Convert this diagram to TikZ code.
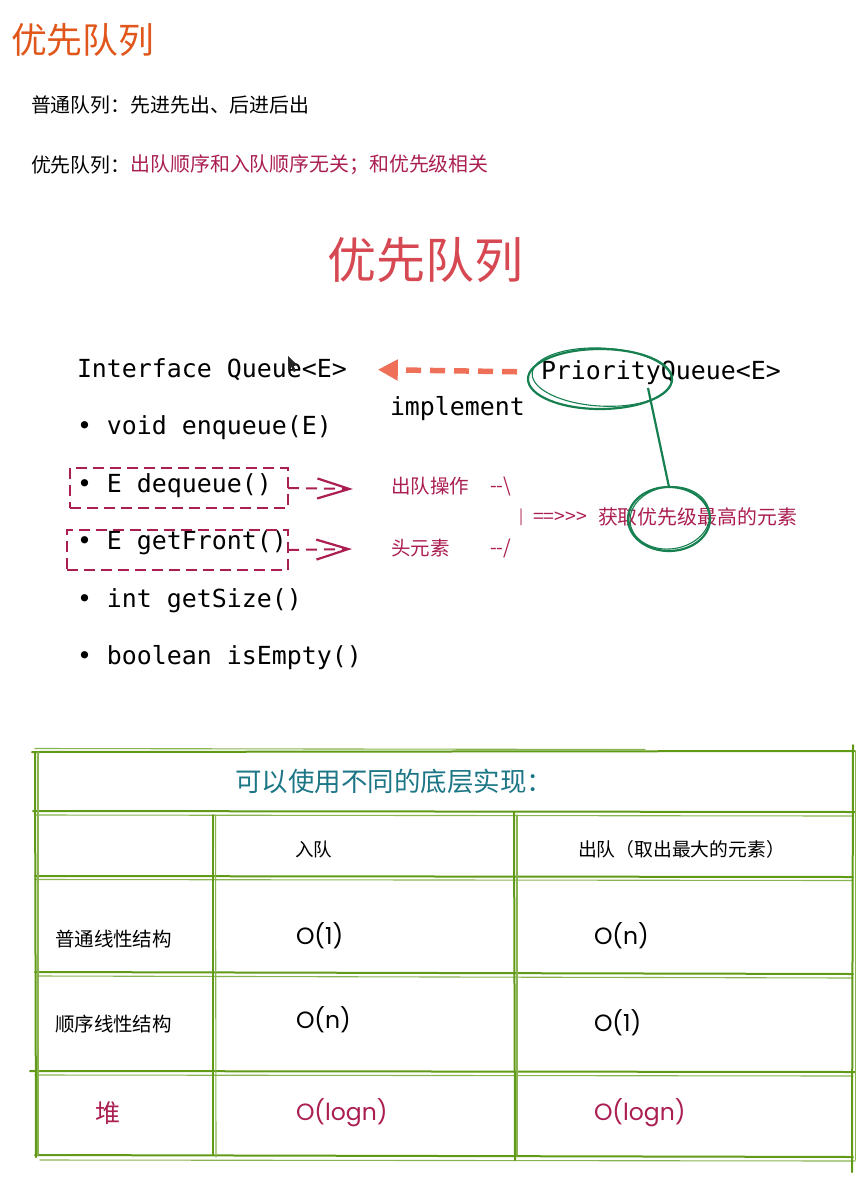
\documentclass[tikz,border=0pt]{standalone}
\usepackage{fontspec}
\setmainfont{Noto Sans CJK SC}
\newfontfamily\cjk{Noto Sans CJK SC}
\newfontfamily\mono{DejaVu Sans Mono}
\newfontfamily\pen{Poppins}
\usetikzlibrary{arrows.meta,shapes.geometric}

\definecolor{titleorange}{RGB}{224,86,27}
\definecolor{bigred}{RGB}{214,72,82}
\definecolor{plum}{RGB}{170,30,82}
\definecolor{arroworange}{RGB}{238,112,88}
\definecolor{pengreen}{RGB}{22,128,80}
\definecolor{gridgreen}{RGB}{96,154,22}
\definecolor{headteal}{RGB}{28,118,134}

\tikzset{
  every node/.style={inner sep=0pt, outer sep=0pt},
  cjktext/.style={font=\cjk\fontsize{#1}{#1}\selectfont, anchor=west},
  codetext/.style={font=\mono\fontsize{24.9}{26}\selectfont, anchor=base west},
  pentext/.style={font=\pen\fontsize{23.5}{24}\selectfont, anchor=west},
  dashbox/.style={draw=plum, line width=2pt, dash pattern=on 11pt off 6pt},
  dasharrow/.style={draw=plum, line width=2pt, dash pattern=on 11pt off 7pt,
    -{Straight Barb[length=32pt,width=20pt,line width=2.2pt]}},
  implarrow/.style={draw=arroworange, line width=5.5pt, dash pattern=on 15pt off 9pt,
    -{Triangle[length=20pt,width=20pt]}},
  penline/.style={draw=pengreen, line width=2.2pt},
  penthin/.style={draw=pengreen, line width=1.1pt},
  gridline/.style={draw=gridgreen, line width=2pt, line cap=round},
  gridthin/.style={draw=gridgreen!75, line width=1.1pt, line cap=round},
}

\begin{document}
\begin{tikzpicture}[x=1pt,y=-1pt]
\useasboundingbox (0,0) rectangle (867,1184);

% headings and notes
\node[cjktext=35.8, text=titleorange] (title) at (11,40) {优先队列};
\node[cjktext=19.9] (fifo) at (31,105) {普通队列：先进先出、后进后出};
\node[cjktext=19.9] (pqlead) at (31,165) {优先队列：};
\node[cjktext=19.9, text=plum] (pqnote) at (pqlead.east) {出队顺序和入队顺序无关；和优先级相关};
\node[cjktext=49, anchor=center, text=bigred] (bigtitle) at (425,260) {优先队列};

% interface listing
\node[codetext] (iq) at (77,377) {Interface Queue<E>};
\node[codetext] (enq) at (77,434) {• void enqueue(E)};
\node[codetext] (deq) at (77,492) {• E dequeue()};
\node[codetext] (front) at (77,549) {• E getFront()};
\node[codetext] (size) at (77,607) {• int getSize()};
\node[codetext] (empty) at (77,664) {• boolean isEmpty()};
\node[codetext] (pq) at (541,379) {PriorityQueue<E>};
\node[codetext] (impl) at (390,415) {implement};

% mouse pointer
\fill[black!85] (288,356) -- (288,370) -- (291.3,366.8) -- (293.8,372) -- (296,371) -- (293.6,365.8) -- (298,365.6) -- cycle;

% implements arrow
\draw[implarrow, shorten <=24pt, shorten >=31pt] (pq.west) -- (iq.east);

% highlighted operations
\node[dashbox, minimum width=218pt, minimum height=40pt] (deqbox) at (179,488) {};
\node[dashbox, minimum width=221pt, minimum height=40pt] (frontbox) at (177.5,550) {};
\coordinate (deqtip) at (353,489);
\coordinate (fronttip) at (352,549);
\draw[dasharrow] (deqbox.east) -- (deqtip);
\draw[dasharrow] (frontbox.east) -- (fronttip);

\node[cjktext=19.5, text=plum] (deqlab) at (391,486) {出队操作};
\node[cjktext=19.5, text=plum] (deqmark) at (490,486) {-{}-\textbackslash};
\node[cjktext=19.5, text=plum] (frontlab) at (391,548) {头元素};
\node[cjktext=19.5, text=plum] (frontmark) at (490,548) {-{}-/};
\node[cjktext=15, text=plum] (bar) at (519,517) {|};
\node[cjktext=19.5, text=plum] (arrows) at (533,518) {=={}>{}>{}>};
\node[cjktext=19.9, text=plum] (result) at (598,517) {获取优先级最高的元素};

% green pen marks
\draw[penline] (600,379) ellipse [x radius=72, y radius=30];
\draw[penthin, rotate around={-3:(600,379)}] (602,377) ellipse [x radius=70, y radius=29];
\node[ellipse, minimum width=144pt, minimum height=60pt] (ring) at (600,379) {};
\node[ellipse, minimum width=82pt, minimum height=64pt] (dot) at (669,519) {};
\draw[penline] (669,519) ellipse [x radius=41, y radius=32];
\draw[penthin, rotate around={8:(669,519)}] (670,518) ellipse [x radius=40, y radius=31];
\coordinate (ringtail) at (648,388);
\draw[penline] (ringtail) -- (dot.north);

% comparison table: frame and rules
\draw[gridline] (32,752) -- (855,751);
\draw[gridthin] (35,748.5) -- (645,749.5);
\draw[gridline] (33,811) -- (855,812);
\draw[gridthin] (35,815) -- (853,816);
\draw[gridline] (35,876) -- (853,877);
\draw[gridthin] (35,879.5) -- (853,880.5);
\draw[gridline] (35,972) -- (853,974);
\draw[gridthin] (37,976) -- (853,978);
\draw[gridline] (30,1071) -- (855,1072);
\draw[gridthin] (35,1075) -- (853,1076);
\draw[gridline] (35,1155) -- (853,1157);
\draw[gridthin] (40,1160) -- (855,1161);
\draw[gridline] (35,752) -- (36,1157);
\draw[gridthin] (38,752) -- (38,1155);
\draw[gridline] (213,815) -- (213,1155);
\draw[gridthin] (215.5,815) -- (216,1157);
\draw[gridline] (514,812) -- (515,1160);
\draw[gridthin] (517,815) -- (517,1155);
\draw[gridline] (853,745) -- (852,1172);
\draw[gridthin] (855.5,752) -- (855.5,1160);

% comparison table: contents
\node[cjktext=26.5, text=headteal] (thead) at (235,781) {可以使用不同的底层实现：};
\node[cjktext=18.5] (colin) at (295,849) {入队};
\node[cjktext=18.8] (colout) at (578,849) {出队（取出最大的元素）};
\node[cjktext=19.5] (rowplain) at (55,939) {普通线性结构};
\node[cjktext=19.5] (rowsorted) at (55,1024) {顺序线性结构};
\node[cjktext=25, text=plum] (rowheap) at (95,1113) {堆};
\node[pentext] (plainin) at (296,936) {O(1)};
\node[pentext] (plainout) at (594,936) {O(n)};
\node[pentext] (sortedin) at (296,1020) {O(n)};
\node[pentext] (sortedout) at (594,1023) {O(1)};
\node[pentext, text=plum] (heapin) at (296,1113) {O(logn)};
\node[pentext, text=plum] (heapout) at (594,1113) {O(logn)};
\end{tikzpicture}
\end{document}
